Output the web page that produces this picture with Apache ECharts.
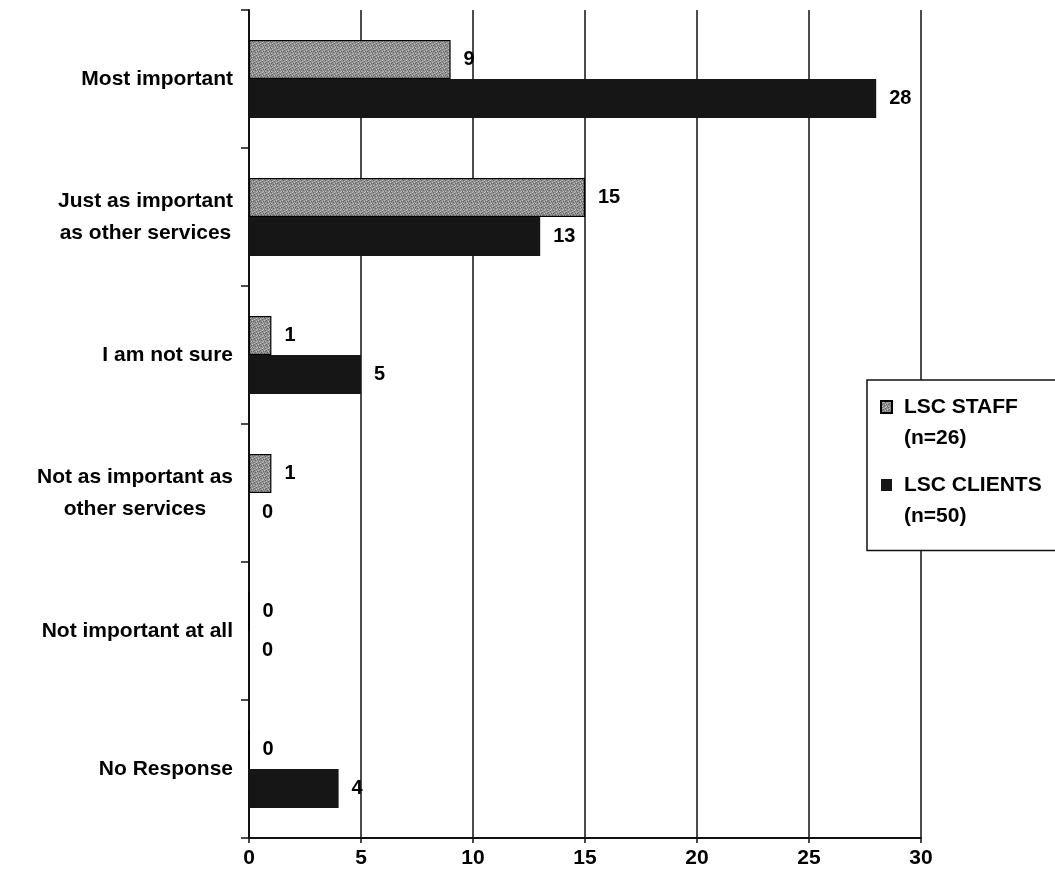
<!DOCTYPE html>
<html>
<head>
<meta charset="utf-8">
<title>Importance of services</title>
<script src="https://cdn.jsdelivr.net/npm/echarts@6/dist/echarts.min.js"></script>
<style>
  html, body { margin: 0; padding: 0; background: #fff; }
  #chart { width: 1055px; height: 880px; }
</style>
</head>
<body>
<div id="chart"></div>
<script>
// Response categories, top to bottom
const categories = [
  'Most important',
  'Just as important\nas other services',
  'I am not sure',
  'Not as important as\nother services',
  'Not important at all',
  'No Response'
];
const seriesNames = ['LSC STAFF', 'LSC CLIENTS'];
const sampleSizes = ['(n=26)', '(n=50)'];
const staffValues = [9, 15, 1, 1, 0, 0];
const clientValues = [28, 13, 5, 0, 0, 4];
const xTicks = { min: 0, max: 30, step: 5 };

const FONT = '"Liberation Sans", Arial, sans-serif';
const INK = '#111';

// Legend box geometry
const LEG = { left: 867, top: 380, firstRow: 407, rowStep: 78, lineStep: 31, textX: 904 };

// Speckled grey fill for the staff bars (fixed 6x6 tile)
function speckle() {
  const tile = [
    '.#..o.',
    '..o.#.',
    'o.#...',
    '.#..o#',
    '...#..',
    '#o...o'
  ];
  const c = document.createElement('canvas');
  c.width = 6; c.height = 6;
  const g = c.getContext('2d');
  const shade = { '.': '#929292', '#': '#636363', 'o': '#c2c2c2' };
  tile.forEach((row, y) => {
    for (let x = 0; x < row.length; x++) {
      g.fillStyle = shade[row[x]];
      g.fillRect(x, y, 1, 1);
    }
  });
  return c;
}

const chart = echarts.init(document.getElementById('chart'), null, { renderer: 'canvas' });

const valueLabel = {
  show: true,
  position: 'right',
  distance: 13,
  color: '#000',
  fontFamily: FONT,
  fontWeight: 'bold',
  fontSize: 20
};

const boldText = { fontFamily: FONT, fontWeight: 'bold', fontSize: 21, fill: '#000' };

chart.setOption({
  animation: false,
  backgroundColor: '#fff',
  grid: { left: 249, right: 134, top: 10, bottom: 42, containLabel: false },
  xAxis: {
    type: 'value',
    min: xTicks.min,
    max: xTicks.max,
    interval: xTicks.step,
    axisLine: { show: true, lineStyle: { color: INK, width: 2 } },
    axisTick: { show: true, length: 5, lineStyle: { color: INK, width: 1.5 } },
    axisLabel: { color: '#000', fontFamily: FONT, fontWeight: 'bold', fontSize: 21, margin: 10 },
    splitLine: { show: true, lineStyle: { color: INK, width: 1.5 } }
  },
  yAxis: {
    type: 'category',
    inverse: true,
    data: categories,
    axisLine: { show: true, lineStyle: { color: INK, width: 2 } },
    axisTick: { show: true, length: 8, alignWithLabel: false, lineStyle: { color: INK, width: 1.5 } },
    axisLabel: {
      margin: 16,
      formatter: (v) => v.split('\n').map(s => '{c|' + s + '}').join('\n'),
      rich: {
        c: {
          align: 'center',
          color: '#000',
          fontFamily: FONT,
          fontWeight: 'bold',
          fontSize: 21,
          lineHeight: 32
        }
      }
    }
  },
  legend: {
    orient: 'vertical',
    left: LEG.left,
    top: LEG.top,
    padding: [LEG.firstRow - LEG.top - LEG.lineStep / 2, 60, 50, 13],
    itemGap: LEG.rowStep - LEG.lineStep,
    itemWidth: 11,
    itemHeight: 12,
    icon: 'rect',
    backgroundColor: '#fff',
    borderColor: INK,
    borderWidth: 1.5,
    borderRadius: 0,
    data: seriesNames,
    textStyle: {
      color: '#000',
      fontFamily: FONT,
      fontWeight: 'bold',
      fontSize: 21,
      lineHeight: LEG.lineStep,
      padding: [0, 0, 0, 7]
    }
  },
  // sample sizes printed under each legend entry
  graphic: sampleSizes.map((s, i) => ({
    type: 'text',
    z: 100,
    style: Object.assign({
      text: s,
      x: LEG.textX,
      y: LEG.firstRow + i * LEG.rowStep + LEG.lineStep,
      verticalAlign: 'middle',
      align: 'left'
    }, boldText)
  })),
  series: [
    {
      name: seriesNames[0],
      type: 'bar',
      data: staffValues,
      barWidth: 39,
      barGap: '0%',
      itemStyle: {
        color: { image: speckle(), repeat: 'repeat' },
        borderColor: '#000',
        borderWidth: 1.2
      },
      label: valueLabel
    },
    {
      name: seriesNames[1],
      type: 'bar',
      data: clientValues,
      barWidth: 39,
      barGap: '0%',
      itemStyle: { color: '#161616' },
      label: valueLabel
    }
  ]
});
</script>
</body>
</html>
